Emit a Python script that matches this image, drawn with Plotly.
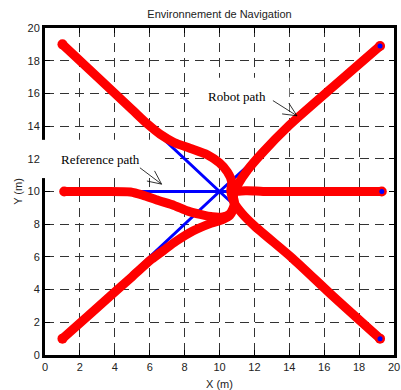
import math
import plotly.graph_objects as go

# Robot trajectories (m): upper-left start, left start, lower-left start
path_a_x = [1.0, 3.0, 5.0, 5.9, 6.6, 7.4, 8.3, 9.3, 10.0, 10.45, 10.7, 10.65, 10.85, 11.3, 12.0, 14.2, 16.5, 19.2]
path_a_y = [19.0, 17.0, 15.0, 14.1, 13.5, 13.0, 12.65, 12.25, 11.75, 11.2, 10.6, 10.0, 9.3, 8.65, 7.9, 5.9, 3.6, 1.0]

path_b_x = [1.1, 3.0, 4.9, 5.6, 6.5, 7.4, 8.2, 8.9, 9.6, 10.2, 10.6, 10.85, 10.8, 11.5, 12.5, 15.0, 17.5, 19.3]
path_b_y = [10.0, 10.0, 9.97, 9.78, 9.45, 9.15, 8.8, 8.6, 8.45, 8.45, 8.65, 9.2, 9.9, 10.05, 10.0, 10.0, 10.0, 10.0]

path_c_x = [1.0, 2.5, 3.7, 5.0, 6.1, 6.8, 7.5, 8.5, 9.5, 10.2, 10.6, 10.85, 10.8, 11.1, 11.6, 12.4, 14.0, 16.5, 19.2]
path_c_y = [1.0, 2.43, 3.57, 4.8, 5.85, 6.4, 6.95, 7.6, 8.05, 8.3, 8.55, 9.1, 9.8, 10.5, 11.3, 12.3, 14.05, 16.4, 18.9]

# Reference paths: start -> crossing point -> goal
ref_start_x = [1.0, 1.0, 1.0]
ref_start_y = [19.0, 10.0, 1.0]
ref_center_x = 10.0
ref_center_y = 10.0
goal_x = [19.2, 19.3, 19.2]
goal_y = [1.0, 10.0, 18.9]

tick_vals = list(range(0, 21, 2))

W, H = 401, 390
ML, MR, MT, MB = 45, 7, 28, 35
SX = (W - ML - MR) / 20.0
SY = (H - MT - MB) / 20.0

fig = go.Figure()

for sx, sy, gx, gy in zip(ref_start_x, ref_start_y, goal_x, goal_y):
    fig.add_trace(go.Scatter(
        x=[sx, ref_center_x, gx], y=[sy, ref_center_y, gy],
        mode="lines", line=dict(color="#0000ff", width=3),
        hoverinfo="skip"))

for px, py in [(path_a_x, path_a_y), (path_b_x, path_b_y), (path_c_x, path_c_y)]:
    fig.add_trace(go.Scatter(
        x=px, y=py, mode="lines",
        line=dict(color="#ff0000", width=9, shape="spline", smoothing=0.7)))
    fig.add_trace(go.Scatter(
        x=[px[0], px[-1]], y=[py[0], py[-1]], mode="markers",
        marker=dict(color="#ff0000", size=10)))

fig.add_trace(go.Scatter(
    x=goal_x, y=goal_y, mode="markers",
    marker=dict(color="#0000ff", size=5)))


def arrow(tip, tail, barb_len=15, barb_deg=25):
    """Thin MATLAB-like arrow: shaft plus two open barbs."""
    dx = (tail[0] - tip[0]) * SX
    dy = (tail[1] - tip[1]) * SY
    ang = math.atan2(dy, dx)
    style = dict(color="black", width=0.8)
    out = [dict(type="line", xref="x", yref="y", x0=tip[0], y0=tip[1],
                x1=tail[0], y1=tail[1], line=style, layer="above")]
    for s in (1, -1):
        a = ang + s * math.radians(barb_deg)
        out.append(dict(type="line", xref="x", yref="y",
                        x0=tip[0], y0=tip[1],
                        x1=tip[0] + barb_len * math.cos(a) / SX,
                        y1=tip[1] + barb_len * math.sin(a) / SY,
                        line=style, layer="above"))
    return out


shapes = [
    # white backgrounds of the two text labels
    dict(type="rect", xref="x", yref="y", x0=0, x1=6.87, y0=10.82, y1=13.16,
         fillcolor="white", line=dict(width=0), layer="between"),
    dict(type="rect", xref="paper", yref="y", x0=-0.010, x1=0.018, y0=10.82, y1=13.16,
         fillcolor="white", line=dict(width=0), layer="above"),
    dict(type="rect", xref="x", yref="y", x0=8.45, x1=14.0, y0=14.75, y1=16.95,
         fillcolor="white", line=dict(width=0), layer="between"),
]
shapes += arrow((14.44, 14.63), (13.06, 15.56))
shapes += arrow((6.68, 10.45), (5.44, 11.45))

font_sans = dict(family="Liberation Sans, Arial, sans-serif", size=11, color="#222222")

axis_common = dict(
    range=[0, 20], tickvals=tick_vals, showgrid=True,
    gridcolor="#333333", griddash="9px,6px", gridwidth=1,
    showline=True, linecolor="black", linewidth=3, mirror="allticks",
    ticks="inside", ticklen=5, tickcolor="black", tickwidth=1,
    zeroline=False, tickfont=font_sans, automargin=False,
)

fig.update_layout(
    width=W, height=H,
    margin=dict(l=ML, r=MR, t=MT, b=MB, autoexpand=False),
    paper_bgcolor="white", plot_bgcolor="white",
    showlegend=False,
    title=dict(text="Environnement de Navigation", x=0.5, xref="paper",
               y=1 - 14 / H, yref="container", yanchor="middle", xanchor="center",
               font=font_sans),
    xaxis=dict(axis_common, title=dict(text="X (m)", standoff=9, font=font_sans)),
    yaxis=dict(axis_common, title=dict(text="Y (m)", standoff=3, font=font_sans)),
    shapes=shapes,
    annotations=[
        dict(text="Robot path", x=11.03, y=15.82, xref="x", yref="y", showarrow=False,
             font=dict(family="Liberation Serif, Times New Roman, serif", size=13, color="black")),
        dict(text="Reference path", x=3.17, y=11.94, xref="x", yref="y", showarrow=False,
             font=dict(family="Liberation Serif, Times New Roman, serif", size=13, color="black")),
    ],
)

fig.write_html("out.html")
